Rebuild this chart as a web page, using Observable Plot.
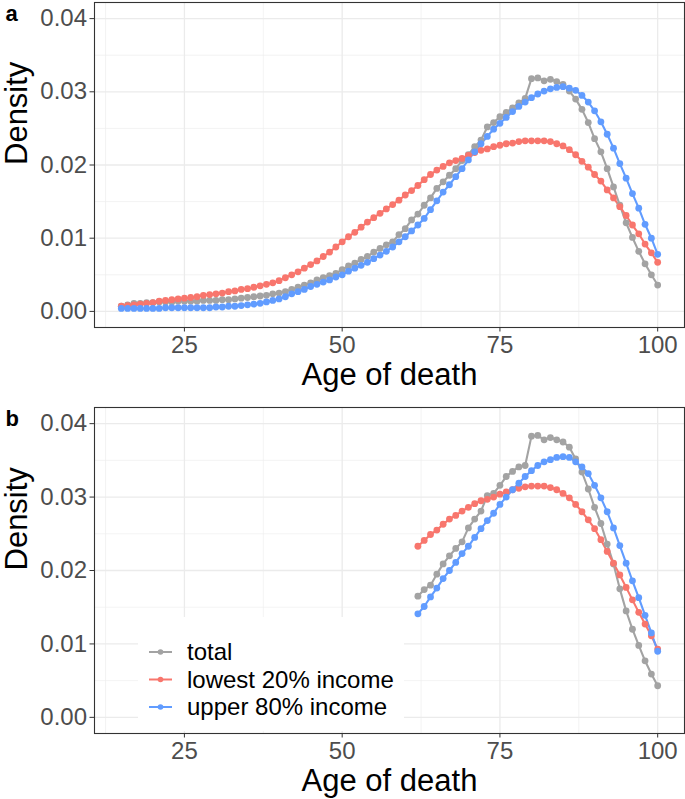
<!DOCTYPE html>
<html>
<head>
<meta charset="utf-8">
<script src="https://cdn.jsdelivr.net/npm/d3@7"></script>
<script src="https://cdn.jsdelivr.net/npm/@observablehq/plot@0.6"></script>
<style>
  body { margin: 0; background: white; }
  #wrap { position: relative; width: 685px; height: 799px; background: white; font-family: "Liberation Sans", Arial, sans-serif; }
  #pa, #pb { position: absolute; left: 0; }
  #pa { top: 0; }
  #pb { top: 400px; }
  #legend { position: absolute; left: 138px; top: 617px; width: 266px; height: 114px; background: white; }
</style>
</head>
<body>
<div id="wrap">
  <div id="pa"></div>
  <div id="pb"></div>
  <div id="legend"></div>
</div>
<script>
// ---------- data ----------
const seriesNames = ["total", "lowest 20% income", "upper 80% income"];
const seriesColors = ["#A3A3A3", "#F8766D", "#619CFF"];

const agesA = [15,16,17,18,19,20,21,22,23,24,25,26,27,28,29,30,31,32,33,34,35,36,37,38,39,40,
  41,42,43,44,45,46,47,48,49,50,51,52,53,54,55,56,57,58,59,60,61,62,63,64,65,66,67,68,69,70,
  71,72,73,74,75,76,77,78,79,80,81,82,83,84,85,86,87,88,89,90,91,92,93,94,95,96,97,98,99,100];

const totalA = [0.0007,0.0009,0.0011,0.0011,0.0012,0.0012,0.0013,0.0013,0.0013,0.0014,
  0.0014,0.0014,0.0014,0.0015,0.0015,0.0015,0.0016,0.0016,0.0017,0.0018,
  0.0019,0.0020,0.0021,0.0022,0.0024,0.0025,0.0027,0.0030,0.0033,0.0036,
  0.0039,0.0043,0.0046,0.0049,0.0052,0.0057,0.0062,0.0066,0.0071,0.0075,
  0.0081,0.0086,0.0091,0.0095,0.0105,0.0113,0.0125,0.0133,0.0145,0.0155,
  0.0168,0.0177,0.0186,0.0195,0.0206,0.0214,0.0225,0.0234,0.0252,0.0258,
  0.0266,0.0272,0.0278,0.0285,0.0291,0.0318,0.0319,0.0315,0.0317,0.0314,
  0.0310,0.0301,0.0290,0.0276,0.0258,0.0236,0.0218,0.0195,0.0170,0.0145,
  0.0121,0.0101,0.0082,0.0065,0.0050,0.0036];

const lowA = [0.0007,0.0008,0.0009,0.0010,0.0011,0.0012,0.0014,0.0015,0.0016,0.0017,
  0.0018,0.0019,0.0020,0.0022,0.0023,0.0024,0.0025,0.0027,0.0028,0.0030,
  0.0031,0.0033,0.0035,0.0037,0.0039,0.0042,0.0046,0.0050,0.0054,0.0059,
  0.0064,0.0069,0.0075,0.0081,0.0088,0.0095,0.0102,0.0108,0.0115,0.0122,
  0.0128,0.0134,0.0140,0.0146,0.0152,0.0159,0.0165,0.0172,0.0180,0.0187,
  0.0193,0.0198,0.0203,0.0206,0.0209,0.0213,0.0217,0.0220,0.0222,0.0225,
  0.0227,0.0229,0.0230,0.0232,0.0233,0.0233,0.0233,0.0233,0.0232,0.0229,
  0.0226,0.0221,0.0214,0.0205,0.0197,0.0187,0.0178,0.0166,0.0155,0.0143,
  0.0131,0.0118,0.0106,0.0092,0.0080,0.0067];

const upA = [0.0004,0.0004,0.0004,0.0004,0.0004,0.0004,0.0004,0.0005,0.0005,0.0005,
  0.0005,0.0005,0.0005,0.0005,0.0005,0.0006,0.0006,0.0007,0.0007,0.0008,
  0.0009,0.0010,0.0011,0.0013,0.0015,0.0017,0.0020,0.0024,0.0027,0.0030,
  0.0034,0.0037,0.0040,0.0043,0.0047,0.0050,0.0055,0.0059,0.0063,0.0067,
  0.0072,0.0077,0.0082,0.0088,0.0095,0.0102,0.0110,0.0118,0.0127,0.0139,
  0.0151,0.0163,0.0173,0.0184,0.0195,0.0207,0.0218,0.0229,0.0239,0.0249,
  0.0257,0.0265,0.0273,0.0280,0.0286,0.0292,0.0297,0.0301,0.0304,0.0306,
  0.0307,0.0305,0.0302,0.0295,0.0286,0.0274,0.0259,0.0242,0.0223,0.0202,
  0.0182,0.0161,0.0141,0.0119,0.0100,0.0078];

const agesB = [62,63,64,65,66,67,68,69,70,71,72,73,74,75,76,77,78,79,80,81,
  82,83,84,85,86,87,88,89,90,91,92,93,94,95,96,97,98,99,100];

const totalB = [0.0165,0.0174,0.0180,0.0195,0.0209,0.0220,0.0230,0.0239,0.0258,0.0270,
  0.0281,0.0302,0.0305,0.0316,0.0328,0.0335,0.0341,0.0343,0.0383,0.0384,
  0.0378,0.0381,0.0378,0.0375,0.0368,0.0352,0.0334,0.0311,0.0286,0.0264,
  0.0236,0.0209,0.0175,0.0145,0.0120,0.0098,0.0077,0.0059,0.0043];

const lowB = [0.0233,0.0241,0.0249,0.0255,0.0263,0.0270,0.0275,0.0281,0.0286,0.0291,
  0.0295,0.0297,0.0300,0.0304,0.0307,0.0310,0.0312,0.0314,0.0315,0.0315,
  0.0315,0.0313,0.0310,0.0305,0.0299,0.0290,0.0280,0.0269,0.0257,0.0242,
  0.0226,0.0210,0.0194,0.0177,0.0160,0.0143,0.0127,0.0111,0.0093];

const upB = [0.0141,0.0151,0.0164,0.0176,0.0189,0.0200,0.0211,0.0223,0.0233,0.0245,
  0.0257,0.0268,0.0278,0.0290,0.0300,0.0310,0.0319,0.0328,0.0336,0.0343,
  0.0348,0.0351,0.0354,0.0355,0.0354,0.0348,0.0341,0.0332,0.0316,0.0299,
  0.0280,0.0258,0.0234,0.0210,0.0186,0.0163,0.0139,0.0115,0.0090];

const xTicks = [25, 50, 75, 100];
const xMinor = [12.5, 37.5, 62.5, 87.5];
const yTicks = [0, 0.01, 0.02, 0.03, 0.04];
const yMinor = [0.005, 0.015, 0.025, 0.035];
const xLabel = "Age of death";
const yLabel = "Density";
const panelLabels = ["a", "b"];

// ---------- build ----------
function toRows(ages, lists) {
  const rows = [];
  lists.forEach((vals, i) => {
    vals.forEach((v, j) => rows.push({series: seriesNames[i], age: ages[j], d: v}));
  });
  return rows;
}

function panel(ages, lists, tag, h, mTop, mBottom) {
  const data = toRows(ages, lists);
  return Plot.plot({
    width: 685,
    height: h,
    marginTop: mTop,
    marginBottom: mBottom,
    marginLeft: 94,
    marginRight: 1,
    style: {fontFamily: "'Liberation Sans', Arial, sans-serif", background: "white", overflow: "visible"},
    x: {domain: [10.75, 104.25]},
    y: {domain: [-0.0022, 0.0422]},
    color: {domain: seriesNames, range: seriesColors},
    marks: [
      Plot.ruleX(xMinor, {stroke: "#EEEEEE", strokeWidth: 0.7}),
      Plot.ruleY(yMinor, {stroke: "#EEEEEE", strokeWidth: 0.7}),
      Plot.ruleX(xTicks, {stroke: "#EBEBEB", strokeWidth: 1.3}),
      Plot.ruleY(yTicks, {stroke: "#EBEBEB", strokeWidth: 1.3}),
      Plot.line(data, {x: "age", y: "d", z: "series", stroke: "series", strokeWidth: 2.1}),
      Plot.dot(data, {x: "age", y: "d", fill: "series", r: 3.4}),
      Plot.frame({stroke: "#333333", strokeWidth: 1.1}),
      Plot.axisX({ticks: xTicks, tickSize: 4.5, tickPadding: 3.5, fontSize: 24, stroke: "#333333", fill: "#4D4D4D", label: null}),
      Plot.axisY({ticks: yTicks, tickFormat: d3.format(".2f"), tickSize: 4.5, tickPadding: 3, fontSize: 24, stroke: "#333333", fill: "#4D4D4D", label: null}),
      Plot.text([xLabel], {frameAnchor: "bottom", lineAnchor: "bottom", dy: 57, fontSize: 31, fill: "black"}),
      Plot.text([yLabel], {frameAnchor: "left", rotate: -90, dx: -77, fontSize: 31, fill: "black"}),
      Plot.text([tag], {frameAnchor: "top-left", lineAnchor: "top", textAnchor: "start", dx: -89, dy: 3, fontSize: 22, fontWeight: "bold", fill: "black"})
    ]
  });
}

document.getElementById("pa").appendChild(panel(agesA, [totalA, lowA, upA], panelLabels[0], 400, 2, 73));
document.getElementById("pb").appendChild(panel(agesB, [totalB, lowB, upB], panelLabels[1], 399, 7, 66));

// legend
const lg = d3.select("#legend").append("svg").attr("width", 266).attr("height", 114)
  .style("font-family", "'Liberation Sans', Arial, sans-serif");
seriesNames.forEach((name, i) => {
  const cy = 35 + i * 27.5;
  const g = lg.append("g");
  g.append("line").attr("x1", 11).attr("x2", 34).attr("y1", cy).attr("y2", cy)
    .attr("stroke", seriesColors[i]).attr("stroke-width", 2);
  g.append("circle").attr("cx", 22.5).attr("cy", cy).attr("r", 2.8).attr("fill", seriesColors[i]);
  g.append("text").attr("x", 49).attr("y", cy).attr("dy", "0.35em")
    .attr("font-size", 24).attr("fill", "black").text(name);
});
</script>
</body>
</html>
